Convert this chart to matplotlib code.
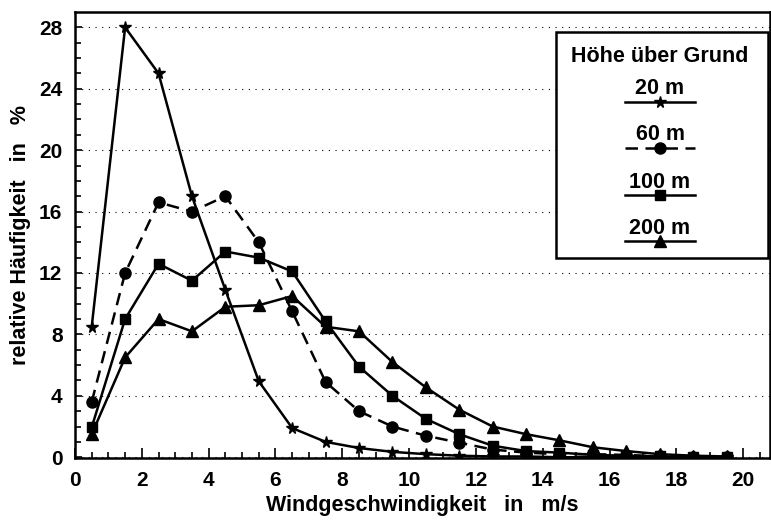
import numpy as np
import matplotlib
matplotlib.use('Agg')
import matplotlib.pyplot as plt
from matplotlib.patches import Rectangle
from matplotlib.lines import Line2D

plt.rcParams['font.family'] = ['Liberation Sans', 'DejaVu Sans']
plt.rcParams['font.weight'] = 'bold'

# wind speed classes (class centres, m/s)
speed = [0.5, 1.5, 2.5, 3.5, 4.5, 5.5, 6.5, 7.5, 8.5, 9.5,
         10.5, 11.5, 12.5, 13.5, 14.5, 15.5, 16.5, 17.5, 18.5, 19.5]

# relative frequency in % per height above ground
h20 = [8.5, 28.0, 25.0, 17.0, 10.9, 4.95, 1.9, 1.0, 0.6, 0.35,
       0.2, 0.1, 0.05, 0.05, 0.0, 0.0, 0.0, 0.0, 0.0, 0.0]
h60 = [3.6, 12.0, 16.6, 16.0, 17.0, 14.0, 9.5, 4.9, 3.0, 2.0,
       1.4, 0.95, 0.5, 0.3, 0.2, 0.2, 0.15, 0.05, 0.0, 0.0]
h100 = [1.95, 9.0, 12.6, 11.5, 13.4, 13.0, 12.1, 8.85, 5.9, 4.0,
        2.5, 1.5, 0.75, 0.4, 0.3, 0.15, 0.1, 0.05, 0.0, 0.0]
h200 = [1.5, 6.5, 9.0, 8.2, 9.8, 9.9, 10.5, 8.5, 8.2, 6.2,
        4.55, 3.1, 2.0, 1.5, 1.1, 0.65, 0.4, 0.2, 0.1, 0.05]

labels = ['20 m', '60 m', '100 m', '200 m']
legend_title = 'Höhe über Grund'

W, H = 771, 522
fig = plt.figure(figsize=(W / 100, H / 100), dpi=100)
ax = fig.add_axes([75 / W, 1 - 458 / H, 695 / W, 446 / H])

styles = [
    dict(marker='*', ms=8.5, ls='-'),
    dict(marker='o', ms=8, ls=(0, (5, 3))),
    dict(marker='s', ms=7.5, ls='-'),
    dict(marker='^', ms=8.5, ls='-'),
]
for ys, st in zip([h20, h60, h100, h200], styles):
    ax.plot(speed, ys, color='black', lw=1.8, marker=st['marker'],
            ms=st['ms'], ls=st['ls'], mfc='black', mec='black', zorder=3)

ax.set_xlim(0, 20.8)
ax.set_ylim(-0.05, 29.0)
ax.set_xticks(np.arange(0, 21, 2))
ax.set_xticks(np.arange(0, 20.8, 0.5), minor=True)
ax.set_yticks(np.arange(0, 29, 4))
ax.set_yticks(np.arange(0, 29, 1), minor=True)
ax.tick_params(which='both', direction='in', width=1.2, labelsize=15)
ax.tick_params(which='major', length=7)
ax.tick_params(which='minor', length=4)
ax.tick_params(axis='x', which='major', pad=9)
ax.tick_params(axis='y', which='major', length=5, pad=9)
for lab in ax.get_xticklabels() + ax.get_yticklabels():
    lab.set_fontweight('bold')
for sp in ax.spines.values():
    sp.set_linewidth(1.8)

ax.grid(axis='y', which='major', color='black', lw=0.8, ls=(0, (1, 5)))
ax.set_axisbelow(True)

ax.set_xlabel('Windgeschwindigkeit   in   m/s', fontsize=15.5, fontweight='bold', labelpad=4)
ax.set_ylabel('relative Häufigkeit   in   %', fontsize=15.5, fontweight='bold', labelpad=6)

# hand-drawn legend box: label above each line sample
fx = lambda px: px / W
fy = lambda py: 1 - py / H
fig.patches.append(Rectangle((fx(556), fy(258)), 212 / W, 226 / H, transform=fig.transFigure,
                             facecolor='white', edgecolor='black', lw=1.8, zorder=5))
fig.text(fx(660), fy(56), legend_title, ha='center', va='center',
         fontsize=15.5, fontweight='bold', zorder=6)
text_y = [88, 135, 182, 228]
line_y = [102, 148, 195, 241]
for lab, st, ty, ly in zip(labels, styles, text_y, line_y):
    fig.text(fx(660), fy(ty), lab, ha='center', va='center',
             fontsize=15.5, fontweight='bold', zorder=6)
    fig.lines.append(Line2D([fx(625), fx(660), fx(695)], [fy(ly)] * 3,
                            transform=fig.transFigure, color='black', lw=1.8,
                            ls=st['ls'], zorder=6))
    fig.lines.append(Line2D([fx(660)], [fy(ly)], transform=fig.transFigure,
                            marker=st['marker'], ms=st['ms'], color='black', zorder=7))

fig.savefig('out.png', dpi=100)
